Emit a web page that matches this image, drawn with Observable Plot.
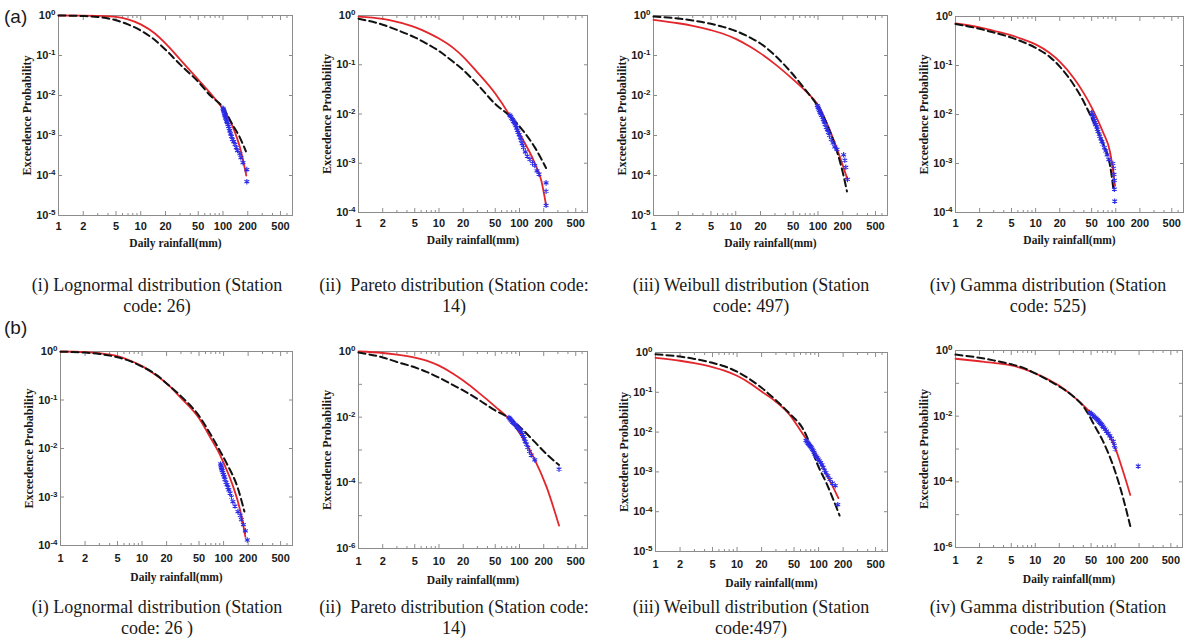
<!DOCTYPE html>
<html><head><meta charset="utf-8">
<script src="https://cdn.jsdelivr.net/npm/d3@7"></script>
<script src="https://cdn.jsdelivr.net/npm/@observablehq/plot@0.6"></script>
<style>
body{margin:0;background:#fff;}
#root{position:relative;width:1185px;height:640px;overflow:hidden;background:#fff;}
.panel{position:absolute;}
.cap{position:absolute;width:440px;font-family:"Liberation Serif","Times New Roman",serif;font-size:18px;line-height:21px;text-align:center;color:#1a1a1a;white-space:pre;}
.tag{position:absolute;font-family:"Liberation Sans",Arial,sans-serif;font-size:19px;line-height:22px;color:#1a1a1a;}
</style></head>
<body><div id="root"></div>
<script>
// ---------- data ----------
const xTicks = [1, 2, 5, 10, 20, 50, 100, 200, 500];
const xMinorTicks = [3, 4, 6, 7, 8, 9, 30, 40, 60, 70, 80, 90, 300, 400, 600];
const yTickText = ["10^0", "10^-1", "10^-2", "10^-3", "10^-4", "10^-5", "10^-6"];
const xTitle = "Daily rainfall(mm)";
const yTitle = "Exceedence Probability";
const rowTags = ["(a)", "(b)"];

const yTicks5 = [1, 1e-1, 1e-2, 1e-3, 1e-4, 1e-5];
const yTicks4 = [1, 1e-1, 1e-2, 1e-3, 1e-4];
const yTicks6 = [1, 1e-1, 1e-2, 1e-3, 1e-4, 1e-5, 1e-6];
const yTicks6Labels = [1, 1e-2, 1e-4, 1e-6];

const captionsA = [
  ["(i) Lognormal distribution (Station", "code: 26)"],
  ["(ii)  Pareto distribution (Station code:", "14)"],
  ["(iii) Weibull distribution (Station", "code: 497)"],
  ["(iv) Gamma distribution (Station", "code: 525)"]
];
const captionsB = [
  ["(i) Lognormal distribution (Station", "code: 26 )"],
  ["(ii)  Pareto distribution (Station code:", "14)"],
  ["(iii) Weibull distribution (Station", "code:497)"],
  ["(iv) Gamma distribution (Station", "code: 525)"]
];

// (a)(i) Lognormal, station 26
const redA1 = [[1,1],[2,0.995],[3,0.98],[5,0.92],[7,0.8],[10,0.6],[15,0.35],[20,0.2],[30,0.08],[50,0.025],[70,0.0115],[85,0.0071],[100,0.0046],[120,0.0025],[140,0.0012],[160,0.00052],[192,0.0001]];
const dashA1 = [[1,1],[2,0.97],[3,0.92],[5,0.76],[7,0.6],[10,0.42],[15,0.24],[20,0.14],[30,0.06],[50,0.022],[70,0.01],[100,0.005],[130,0.0019],[160,0.0009],[190,0.0004]];
const starsA1 = [[100,0.0048],[101,0.0045],[102,0.0042],[103,0.0039],[104,0.0036],[105,0.0033],[106,0.0031],[107,0.0029],[108,0.0027],[110,0.0025],[111,0.0023],[113,0.0021],[115,0.0019],[117,0.0017],[119,0.0015],[121,0.0013],[124,0.0011],[127,0.00095],[130,0.0008],[135,0.0007],[140,0.0006],[145,0.0005],[150,0.00042],[160,0.00035],[165,0.00028],[175,0.00021],[195,0.00014],[195,0.00007]];

// (a)(ii) Pareto, station 14
const redA2 = [[1,0.95],[2,0.85],[3,0.74],[5,0.58],[7,0.46],[10,0.34],[15,0.22],[20,0.145],[30,0.07],[50,0.026],[75,0.0095],[106,0.0034],[155,0.001],[187,0.00044],[214,0.00014]];
const dashA2 = [[1,0.86],[2,0.65],[3,0.51],[5,0.36],[7,0.27],[10,0.19],[15,0.115],[20,0.078],[30,0.04],[50,0.016],[75,0.0092],[106,0.005],[155,0.0021],[214,0.0008]];
const starsA2 = [[76,0.0095],[78,0.0088],[80,0.0082],[82,0.0077],[84,0.0072],[86,0.0068],[88,0.0063],[90,0.0058],[92,0.0052],[94,0.0047],[96,0.0043],[99,0.0038],[102,0.0033],[105,0.0029],[108,0.0025],[112,0.0021],[118,0.0017],[125,0.0014],[135,0.0012],[145,0.001],[155,0.0009],[165,0.0007],[175,0.0006],[214,0.0004],[214,0.00027],[214,0.00014]];

// (a)(iii) Weibull, station 497
const redA3 = [[1,0.78],[2,0.64],[3,0.55],[5,0.43],[7,0.35],[10,0.26],[15,0.165],[20,0.113],[30,0.061],[50,0.025],[70,0.0132],[100,0.0058],[130,0.0019],[165,0.00055],[200,0.00018],[228,0.00008]];
const dashA3 = [[1,0.94],[2,0.84],[3,0.75],[5,0.62],[7,0.52],[10,0.41],[15,0.28],[20,0.2],[30,0.1],[50,0.033],[70,0.014],[98,0.0056],[130,0.0018],[170,0.0004],[200,0.00012],[225,0.00004]];
const starsA3 = [[98,0.0056],[100,0.0051],[102,0.0046],[104,0.0042],[106,0.0038],[108,0.0035],[110,0.0032],[113,0.0029],[116,0.0025],[119,0.0022],[122,0.0019],[126,0.0016],[130,0.0014],[134,0.0012],[138,0.001],[145,0.0008],[152,0.00065],[160,0.00052],[170,0.00045],[205,0.00033],[212,0.00024],[218,0.00016],[228,0.00008]];

// (a)(iv) Gamma, station 525
const redA4 = [[1,0.72],[2,0.6],[3,0.51],[5,0.41],[7,0.34],[10,0.27],[15,0.18],[20,0.12],[30,0.055],[40,0.027],[50,0.014],[60,0.0075],[70,0.0042],[85,0.0017],[98,0.00035]];
const dashA4 = [[1,0.7],[2,0.56],[3,0.47],[5,0.37],[7,0.3],[10,0.23],[15,0.15],[20,0.095],[30,0.04],[40,0.018],[50,0.0085],[60,0.0045],[70,0.0025],[85,0.0009],[94,0.00028]];
const starsA4 = [[50,0.011],[51,0.0098],[52,0.009],[53,0.0082],[54,0.0075],[55,0.0068],[56,0.0062],[58,0.0056],[59,0.005],[60,0.0045],[62,0.004],[63,0.0036],[65,0.0032],[67,0.0028],[69,0.0025],[72,0.0021],[75,0.0018],[78,0.0015],[82,0.0012],[92,0.001],[94,0.0008],[95,0.0006],[96,0.00045],[96,0.0003],[97,0.00017]];

// (b)(i) Lognormal, station 26
const redB1 = [[1,1],[2,0.97],[3,0.92],[5,0.8],[7,0.66],[10,0.5],[15,0.32],[20,0.22],[30,0.11],[50,0.042],[70,0.016],[90,0.0075],[110,0.0035],[130,0.0017],[150,0.0008],[165,0.00042],[185,0.00015]];
const dashB1 = [[1,0.99],[2,0.95],[3,0.89],[5,0.76],[7,0.64],[10,0.49],[15,0.33],[20,0.22],[30,0.12],[50,0.047],[70,0.019],[90,0.009],[110,0.0048],[150,0.0015],[180,0.0005]];
const starsB1 = [[92,0.0048],[93,0.0044],[94,0.0041],[95,0.0038],[96,0.0035],[98,0.0032],[100,0.0029],[102,0.0026],[104,0.0023],[107,0.002],[110,0.0018],[113,0.0016],[116,0.0014],[120,0.0012],[125,0.001],[130,0.0008],[138,0.00065],[150,0.0005],[160,0.00042],[165,0.00034],[175,0.00027],[185,0.0002],[195,0.00013]];

// (b)(ii) Pareto, station 14
const redB2 = [[1,1],[2,0.9],[3,0.8],[5,0.65],[7,0.53],[10,0.37],[15,0.21],[20,0.13],[30,0.06],[50,0.021],[75,0.0085],[103,0.003],[150,0.0006],[217,0.000075],[310,0.000005]];
const dashB2 = [[1,0.93],[2,0.66],[3,0.48],[5,0.33],[7,0.24],[10,0.16],[15,0.095],[20,0.065],[30,0.036],[50,0.016],[75,0.0093],[103,0.0048],[150,0.0019],[217,0.00075],[310,0.00035]];
const starsB2 = [[74,0.0098],[76,0.009],[78,0.0083],[80,0.0077],[82,0.0071],[85,0.0066],[88,0.006],[91,0.0055],[94,0.005],[97,0.0046],[100,0.0042],[103,0.0038],[106,0.0034],[109,0.003],[112,0.0026],[115,0.0022],[118,0.0018],[122,0.0015],[127,0.0012],[133,0.0009],[140,0.0007],[155,0.0005],[310,0.00026]];

// (b)(iii) Weibull, station 497
const redB3 = [[1,0.73],[2,0.62],[3,0.54],[5,0.43],[7,0.35],[10,0.26],[15,0.16],[20,0.105],[30,0.058],[45,0.026],[60,0.011],[75,0.0055],[90,0.003],[104,0.0019],[126,0.00085],[150,0.00042],[175,0.00022]];
const dashB3 = [[1,0.9],[2,0.79],[3,0.69],[5,0.55],[7,0.45],[10,0.33],[15,0.2],[20,0.13],[30,0.063],[45,0.028],[66,0.011],[80,0.0045],[95,0.0017],[126,0.0005],[155,0.00018],[181,0.00008]];
const starsB3 = [[70,0.0062],[72,0.0057],[74,0.0053],[76,0.0049],[78,0.0046],[80,0.0043],[82,0.004],[84,0.0037],[86,0.0034],[88,0.0031],[90,0.0028],[93,0.0025],[96,0.0023],[99,0.0021],[102,0.0019],[106,0.0017],[110,0.0015],[114,0.0013],[118,0.0011],[123,0.00095],[130,0.0008],[138,0.00065],[148,0.00052],[160,0.00045],[172,0.00015]];

// (b)(iv) Gamma, station 525
const redB4 = [[1,0.56],[2,0.47],[3,0.42],[5,0.35],[7,0.28],[10,0.2],[15,0.125],[20,0.085],[30,0.04],[47,0.0145],[70,0.005],[85,0.0025],[100,0.0011],[125,0.00022],[155,0.00004]];
const dashB4 = [[1,0.75],[2,0.6],[3,0.5],[5,0.38],[7,0.3],[10,0.2],[15,0.12],[20,0.08],[30,0.04],[40,0.02],[57,0.0045],[70,0.0018],[100,0.00021],[125,0.000035],[155,0.0000045]];
const starsB4 = [[48,0.013],[50,0.012],[52,0.011],[54,0.01],[56,0.0092],[58,0.0085],[60,0.0078],[62,0.0072],[64,0.0066],[66,0.006],[68,0.0055],[70,0.005],[72,0.0045],[75,0.004],[78,0.0035],[82,0.003],[86,0.0025],[90,0.0021],[95,0.0017],[98,0.0013],[100,0.001],[195,0.0003]];

// ---------- layout (frame boxes in page pixels) ----------
const frames = [
  {L: 58, T: 15, R: 292, B: 215}, {L: 358, T: 15, R: 587, B: 212},
  {L: 653, T: 15, R: 887, B: 215}, {L: 955, T: 16, R: 1183, B: 212},
  {L: 60, T: 351, R: 292, B: 545}, {L: 358, T: 351, R: 587, B: 548},
  {L: 655, T: 352, R: 887, B: 551}, {L: 955, T: 350, R: 1182, B: 547}
];
const panels = [
  {red: redA1, dash: dashA1, stars: starsA1, marks: yTicks5, labels: yTicks5},
  {red: redA2, dash: dashA2, stars: starsA2, marks: yTicks4, labels: yTicks4},
  {red: redA3, dash: dashA3, stars: starsA3, marks: yTicks5, labels: yTicks5},
  {red: redA4, dash: dashA4, stars: starsA4, marks: yTicks4, labels: yTicks4},
  {red: redB1, dash: dashB1, stars: starsB1, marks: yTicks4, labels: yTicks4},
  {red: redB2, dash: dashB2, stars: starsB2, marks: yTicks6, labels: yTicks6Labels},
  {red: redB3, dash: dashB3, stars: starsB3, marks: yTicks5, labels: yTicks5},
  {red: redB4, dash: dashB4, stars: starsB4, marks: yTicks6, labels: yTicks6Labels}
];

const root = document.getElementById("root");
const ml = 62, mr = 2, mt = 8, mb = 44;
const grey = "#8c8c8c";
const ink = "#1a1a1a";
const noText = () => "";
const serif = "'Liberation Serif', 'Times New Roman', serif";

panels.forEach((p, i) => {
  const f = frames[i];
  const rowB = i >= 4;
  const yMin = p.marks[p.marks.length - 1];
  const chart = Plot.plot({
    width: f.R - f.L + ml + mr,
    height: f.B - f.T + mt + mb,
    marginLeft: ml, marginRight: mr, marginTop: mt, marginBottom: mb,
    style: {background: "transparent", overflow: "visible", fontFamily: "'Liberation Sans', Arial, sans-serif", fontSize: "11px", fontWeight: "bold", color: ink},
    x: {type: "log", domain: [1, 700]},
    y: {type: "log", domain: [yMin, 1]},
    marks: [
      Plot.frame({stroke: grey, strokeWidth: 1}),
      Plot.axisX(xTicks, {anchor: "bottom", tickSize: -4, tickFormat: noText, label: null, stroke: grey}),
      Plot.axisX(xTicks, {anchor: "top", tickSize: -4, tickFormat: noText, label: null, stroke: grey}),
      Plot.axisX(xMinorTicks, {anchor: "bottom", tickSize: -2, tickFormat: noText, label: null, stroke: grey}),
      Plot.axisX(xMinorTicks, {anchor: "top", tickSize: -2, tickFormat: noText, label: null, stroke: grey}),
      Plot.axisY(p.marks, {anchor: "left", tickSize: -4, tickFormat: noText, label: null, stroke: grey}),
      Plot.axisY(p.marks, {anchor: "right", tickSize: -4, tickFormat: noText, label: null, stroke: grey}),
      Plot.text(xTicks, {x: d => d, frameAnchor: "bottom", lineAnchor: "top", textAnchor: "middle", dy: rowB ? 9 : 7, text: d => String(d), fill: ink}),
      Plot.text(p.labels, {y: d => d, frameAnchor: "left", textAnchor: "end", lineAnchor: "middle", dx: -3, text: d => yTickText[Math.round(-Math.log10(d))], fill: ink}),
      Plot.line(p.red, {x: d => d[0], y: d => d[1], stroke: "#e3262c", strokeWidth: 1.8, curve: "monotone-x"}),
      Plot.line(p.dash, {x: d => d[0], y: d => d[1], stroke: "#111", strokeWidth: 2, strokeDasharray: "7,4", curve: "monotone-x"}),
      Plot.dot(p.stars, {x: d => d[0], y: d => d[1], symbol: "asterisk", r: 2.6, stroke: "#2b2be8", strokeWidth: 1.1}),
      Plot.text([xTitle], {text: d => d, frameAnchor: "bottom", textAnchor: "middle", lineAnchor: "middle", dy: rowB ? 32 : 28, fontFamily: serif, fontWeight: "bold", fontSize: 11.5, fill: ink}),
      Plot.text([yTitle], {text: d => d, x: () => 1, y: () => Math.sqrt(yMin), textAnchor: "middle", lineAnchor: "middle", dx: -31, rotate: -90, fontFamily: serif, fontWeight: "bold", fontSize: 12, fill: ink})
    ]
  });
  // superscript exponents on the y tick labels
  chart.querySelectorAll("text").forEach(t => {
    const s = t.textContent;
    if (s.startsWith("10^")) {
      t.textContent = "10";
      const ts = document.createElementNS("http://www.w3.org/2000/svg", "tspan");
      ts.setAttribute("dy", "-0.45em");
      ts.setAttribute("font-size", "8px");
      ts.textContent = s.slice(3);
      t.appendChild(ts);
    }
  });
  const div = document.createElement("div");
  div.className = "panel";
  div.style.left = (f.L - ml) + "px";
  div.style.top = (f.T - mt) + "px";
  div.appendChild(chart);
  root.appendChild(div);
});

// captions
const capCenters = [157, 454, 751, 1048];
function addCaptions(caps, top) {
  caps.forEach((c, i) => {
    const d = document.createElement("div");
    d.className = "cap";
    d.style.left = (capCenters[i] - 220) + "px";
    d.style.top = top + "px";
    d.textContent = c[0] + "\n" + c[1];
    root.appendChild(d);
  });
}
addCaptions(captionsA, 275);
addCaptions(captionsB, 597);

[[rowTags[0], 6], [rowTags[1], 317]].forEach(([t, top]) => {
  const d = document.createElement("div");
  d.className = "tag";
  d.style.left = "4px";
  d.style.top = top + "px";
  d.textContent = t;
  root.appendChild(d);
});
</script>
</body></html>
